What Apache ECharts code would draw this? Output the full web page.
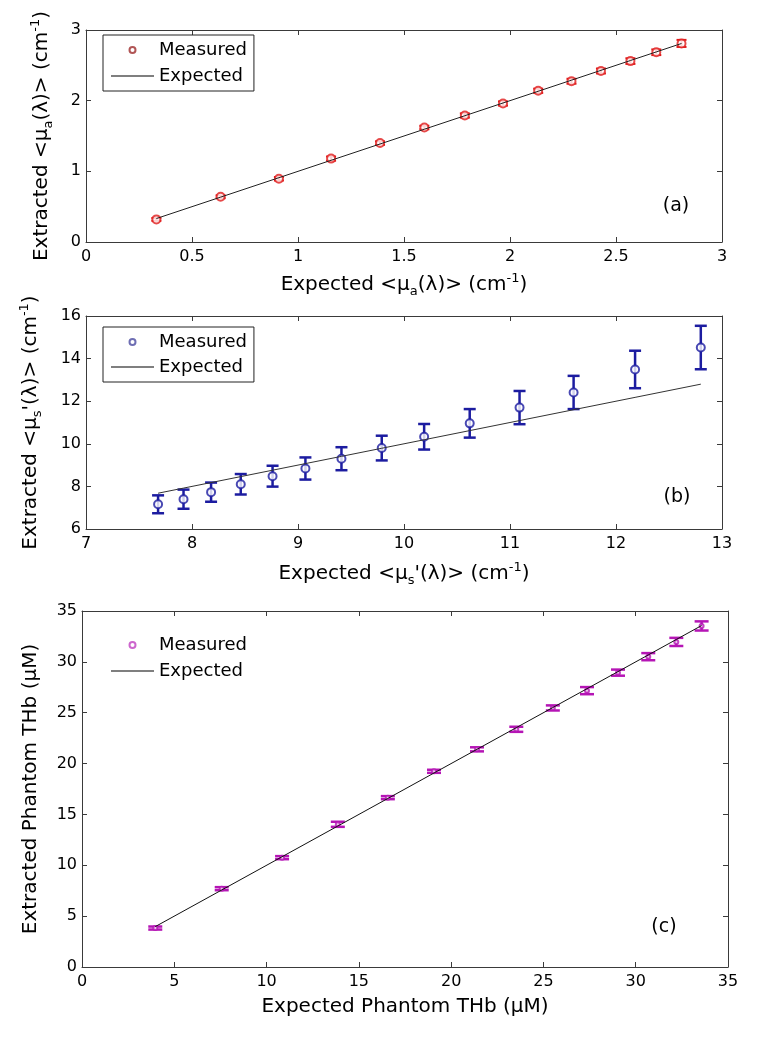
<!DOCTYPE html>
<html><head><meta charset="utf-8">
<script src="https://cdn.jsdelivr.net/npm/echarts@6/dist/echarts.min.js"></script>
<style>html,body{margin:0;padding:0;background:#fff}#c{width:757px;height:1038px}</style>
</head><body><div id="c"></div>
<script>
// ---------- Panel (a): absorption ----------
const aExpected = [0.332, 0.635, 0.910, 1.156, 1.387, 1.596, 1.787, 1.967, 2.133, 2.290, 2.429, 2.568, 2.690, 2.809];
const aMeasured = [0.32, 0.64, 0.895, 1.18, 1.40, 1.62, 1.79, 1.96, 2.14, 2.275, 2.42, 2.56, 2.685, 2.81];
const aError    = [0.02, 0.02, 0.025, 0.03, 0.025, 0.025, 0.03, 0.03, 0.03, 0.035, 0.035, 0.04, 0.04, 0.05];
const aXTicks = [0, 0.5, 1, 1.5, 2, 2.5, 3];
const aYTicks = [0, 1, 2, 3];

// ---------- Panel (b): reduced scattering ----------
const bExpected = [7.68, 7.92, 8.18, 8.46, 8.76, 9.07, 9.41, 9.79, 10.19, 10.62, 11.09, 11.60, 12.18, 12.80];
const bMeasured = [7.16, 7.40, 7.73, 8.10, 8.48, 8.84, 9.30, 9.80, 10.33, 10.96, 11.70, 12.41, 13.49, 14.52];
const bError    = [0.42, 0.45, 0.45, 0.48, 0.49, 0.52, 0.54, 0.58, 0.60, 0.67, 0.78, 0.78, 0.88, 1.02];
const bXTicks = [7, 8, 9, 10, 11, 12, 13];
const bYTicks = [6, 8, 10, 12, 14, 16];

// ---------- Panel (c): phantom THb ----------
const cExpected = [3.97, 7.57, 10.84, 13.86, 16.57, 19.07, 21.40, 23.53, 25.51, 27.36, 29.04, 30.68, 32.20, 33.57];
const cMeasured = [3.83, 7.70, 10.75, 14.03, 16.65, 19.24, 21.40, 23.37, 25.47, 27.17, 28.94, 30.51, 31.96, 33.53];
const cError    = [0.15, 0.15, 0.15, 0.25, 0.15, 0.15, 0.2, 0.25, 0.25, 0.35, 0.3, 0.35, 0.4, 0.45];
const cXTicks = [0, 5, 10, 15, 20, 25, 30, 35];
const cYTicks = [0, 5, 10, 15, 20, 25, 30, 35];

const legendNames = ['Measured', 'Expected'];
const panelTags = ['(a)', '(b)', '(c)'];

const FONT = 'DejaVu Sans';
const AXIS_COLOR = '#3a3a3a';

const richName = {
  b:   { fontFamily: FONT, fontSize: 20, lineHeight: 26, color: '#000' },
  sub: { fontFamily: FONT, fontSize: 13, lineHeight: 13, verticalAlign: 'bottom', color: '#000' },
  sup: { fontFamily: FONT, fontSize: 13, lineHeight: 13, verticalAlign: 'top', color: '#000' }
};
const nameStyle = { fontFamily: FONT, fontSize: 20, lineHeight: 26, color: '#000', rich: richName };

function step(t) { return t[1] - t[0]; }

function xAxes(grid, ticks, name, gap) {
  const base = {
    gridIndex: grid, type: 'value', min: ticks[0], max: ticks[ticks.length - 1], interval: step(ticks),
    axisLine: { show: true, onZero: false, lineStyle: { color: AXIS_COLOR, width: 1 } },
    axisTick: { show: true, inside: true, length: 5, lineStyle: { color: AXIS_COLOR } },
    splitLine: { show: false }
  };
  return [
    Object.assign({}, base, {
      position: 'bottom', name: name, nameLocation: 'middle', nameGap: gap, nameTextStyle: nameStyle,
      axisLabel: { show: true, margin: 7, fontFamily: FONT, fontSize: 16, color: '#000', showMinLabel: true, showMaxLabel: true }
    }),
    Object.assign({}, base, { position: 'top', axisLabel: { show: false } })
  ];
}
function yAxes(grid, ticks, name, gap) {
  const base = {
    gridIndex: grid, type: 'value', min: ticks[0], max: ticks[ticks.length - 1], interval: step(ticks),
    axisLine: { show: true, onZero: false, lineStyle: { color: AXIS_COLOR, width: 1 } },
    axisTick: { show: true, inside: true, length: 5, lineStyle: { color: AXIS_COLOR } },
    splitLine: { show: false }
  };
  return [
    Object.assign({}, base, {
      position: 'left', name: name, nameLocation: 'middle', nameRotate: 90, nameGap: gap, nameTextStyle: nameStyle,
      axisLabel: { show: true, margin: 5, fontFamily: FONT, fontSize: 16, color: '#000', showMinLabel: true, showMaxLabel: true }
    }),
    Object.assign({}, base, { position: 'right', axisLabel: { show: false } })
  ];
}

function zip(xs, ys) { return xs.map((x, i) => [x, ys[i]]); }
function errData(xs, ys, es) { return xs.map((x, i) => [x, ys[i] - es[i], ys[i] + es[i]]); }

function errRender(capHalf, color, lw) {
  return function (params, api) {
    const x = api.value(0);
    const lo = api.coord([x, api.value(1)]);
    const hi = api.coord([x, api.value(2)]);
    const st = { stroke: color, lineWidth: lw };
    return {
      type: 'group',
      children: [
        { type: 'line', shape: { x1: lo[0], y1: lo[1], x2: hi[0], y2: hi[1] }, style: st },
        { type: 'line', shape: { x1: lo[0] - capHalf, y1: lo[1], x2: lo[0] + capHalf, y2: lo[1] }, style: st },
        { type: 'line', shape: { x1: hi[0] - capHalf, y1: hi[1], x2: hi[0] + capHalf, y2: hi[1] }, style: st }
      ]
    };
  };
}

function panelSeries(idx, expected, measured, errors, color, capHalf, lw, symSize, symBorder, lineColor) {
  return [
    {
      name: 'Measured error ' + idx, type: 'custom', xAxisIndex: idx * 2, yAxisIndex: idx * 2,
      renderItem: errRender(capHalf, color, lw), data: errData(expected, measured, errors),
      encode: { x: 0, y: [1, 2] }, z: 2, silent: true
    },
    {
      name: legendNames[0], type: 'scatter', xAxisIndex: idx * 2, yAxisIndex: idx * 2,
      symbol: 'emptyCircle', symbolSize: symSize, data: zip(expected, measured),
      itemStyle: { color: color, borderColor: color, borderWidth: symBorder }, z: 3
    },
    {
      name: legendNames[1], type: 'line', xAxisIndex: idx * 2, yAxisIndex: idx * 2,
      symbol: 'none', showSymbol: false, data: zip(expected, expected),
      lineStyle: { color: lineColor, width: 1 }, itemStyle: { color: lineColor }, z: 4, animation: false
    }
  ];
}

function legendFor(left, top, markerColor, bordered, gap) {
  return {
    orient: 'vertical', left: left, top: top,
    itemWidth: 43, itemHeight: 6, itemGap: gap,
    padding: [6, 7, 6, 8],
    borderColor: bordered ? '#222' : 'transparent', borderWidth: bordered ? 1 : 0,
    backgroundColor: '#fff', selectedMode: false,
    textStyle: { fontFamily: FONT, fontSize: 18, color: '#000', width: 90 },
    data: [
      { name: legendNames[0], icon: 'emptyCircle', itemStyle: { color: markerColor, borderColor: markerColor, borderWidth: 1 } },
      { name: legendNames[1], icon: 'path://M0,0H43V1H0Z', itemStyle: { color: '#000', borderWidth: 0 } }
    ]
  };
}

const chart = echarts.init(document.getElementById('c'), null, { renderer: 'canvas' });
const option = {
  animation: false,
  backgroundColor: '#fff',
  grid: [
    { left: 86, right: 35, top: 30, height: 212, containLabel: false, outerBoundsMode: 'none' },
    { left: 86, right: 35, top: 316, height: 213, containLabel: false, outerBoundsMode: 'none' },
    { left: 82, right: 29, top: 611, height: 356, containLabel: false, outerBoundsMode: 'none' }
  ],
  xAxis: [].concat(
    xAxes(0, aXTicks, '{b|Expected <μ}{sub|a}{b|(λ)> (cm}{sup|-1}{b|)}', 30),
    xAxes(1, bXTicks, "{b|Expected <μ}{sub|s}{b|'(λ)> (cm}{sup|-1}{b|)}", 32),
    xAxes(2, cXTicks, '{b|Expected Phantom THb (μM)}', 27)
  ),
  yAxis: [].concat(
    yAxes(0, aYTicks, '{b|Extracted <μ}{sub|a}{b|(λ)> (cm}{sup|-1}{b|)}', 31),
    yAxes(1, bYTicks, "{b|Extracted <μ}{sub|s}{b|'(λ)> (cm}{sup|-1}{b|)}", 42),
    yAxes(2, cYTicks, '{b|Extracted Phantom THb (μM)}', 38)
  ),
  legend: [
    legendFor(103, 35, '#9e2a2a', true, 8),
    legendFor(103, 327, '#4a4aa0', true, 7),
    legendFor(103, 630, '#c040c0', false, 8)
  ],
  series: [].concat(
    panelSeries(0, aExpected, aMeasured, aError, '#e01b1b', 5, 2, 8, 2.5, '#222'),
    panelSeries(1, bExpected, bMeasured, bError, '#1c1ca0', 6, 2.5, 8, 1.5, '#333'),
    panelSeries(2, cExpected, cMeasured, cError, '#b515b5', 7, 2.5, 4, 1.2, '#111')
  ),
  graphic: [
    { type: 'text', x: 676, y: 206, style: { text: panelTags[0], fontFamily: FONT, fontSize: 19, fill: '#000', align: 'center', verticalAlign: 'middle' } },
    { type: 'text', x: 677, y: 497, style: { text: panelTags[1], fontFamily: FONT, fontSize: 19, fill: '#000', align: 'center', verticalAlign: 'middle' } },
    { type: 'text', x: 664, y: 927, style: { text: panelTags[2], fontFamily: FONT, fontSize: 19, fill: '#000', align: 'center', verticalAlign: 'middle' } }
  ]
};
chart.setOption(option);
</script>
</body></html>
